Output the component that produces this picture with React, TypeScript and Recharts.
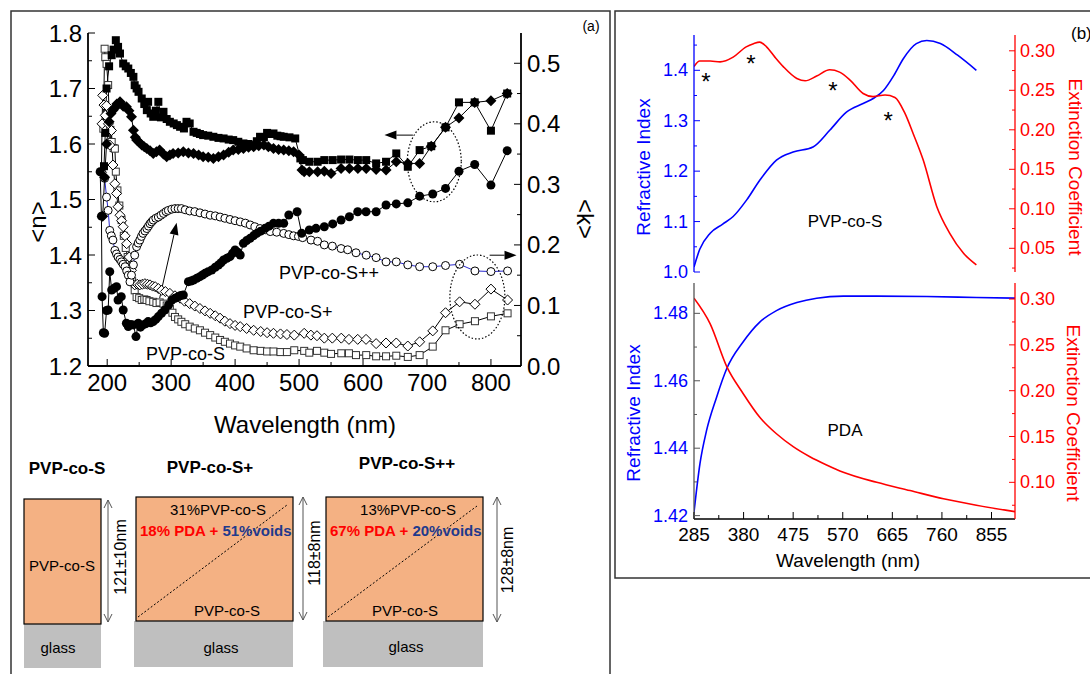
import React from 'react';
import { ComposedChart, Line, XAxis, YAxis, ReferenceLine, ReferenceDot } from 'recharts';

const FONT = '"Liberation Sans", Arial, Helvetica, sans-serif';

// ---- panel (a): effective index <n> (left axis), filled symbols
const nSquares: [number, number][] = [
  [195, 1.56], [197, 1.62], [199, 1.7], [203, 1.74], [207, 1.76], [210, 1.77], [213.5, 1.787], [217, 1.775], [220, 1.763],
  [225, 1.745], [229, 1.74], [233, 1.736], [237, 1.728], [241, 1.721], [243, 1.706], [246, 1.7], [249, 1.694], [254, 1.682],
  [258, 1.672], [262, 1.661], [264, 1.676], [268, 1.655], [272, 1.649], [276, 1.66], [280, 1.676], [284, 1.648], [288, 1.658],
  [293, 1.645], [298, 1.64], [304, 1.637], [309, 1.634], [314, 1.631], [320, 1.628], [324, 1.64], [329, 1.637], [335, 1.622],
  [340, 1.62], [345, 1.618], [350, 1.616], [358, 1.615], [366, 1.613], [374, 1.611], [382, 1.61], [390, 1.608], [397, 1.607],
  [405, 1.604], [413, 1.601], [421, 1.6], [429, 1.598], [434, 1.605], [439, 1.613], [445, 1.612], [450, 1.62], [455, 1.618],
  [460, 1.619], [466, 1.615], [471, 1.614], [476, 1.613], [485, 1.612], [494, 1.61], [502, 1.574], [506, 1.571], [516, 1.568],
  [529, 1.568], [539.5, 1.571], [552.6, 1.571], [565.7, 1.572], [578.7, 1.572], [592, 1.571], [605, 1.571], [620.5, 1.565],
  [636, 1.568], [652, 1.583], [670, 1.559], [688.5, 1.589], [706.7, 1.596], [729, 1.63], [750, 1.675], [774.6, 1.675],
  [800, 1.624], [825.4, 1.691],
];
const nDiamonds: [number, number][] = [
  [193, 1.47], [196, 1.54], [199, 1.6], [203, 1.64], [206, 1.655], [209, 1.661], [212, 1.665], [215, 1.672], [220, 1.676],
  [225, 1.668], [230, 1.667], [234, 1.66], [238, 1.649], [241, 1.625], [244, 1.612], [246, 1.607], [250, 1.603], [254, 1.598],
  [258, 1.595], [262, 1.592], [267, 1.588], [272, 1.583], [277, 1.586], [282, 1.589], [288, 1.582], [293, 1.577], [298, 1.58],
  [303, 1.583], [311, 1.584], [319, 1.586], [327, 1.584], [335, 1.583], [343, 1.58], [350, 1.577], [358, 1.576], [366, 1.574],
  [374, 1.577], [382, 1.58], [390, 1.585], [397, 1.589], [405, 1.59], [413, 1.592], [421, 1.594], [429, 1.595], [437, 1.597],
  [445, 1.598], [452, 1.595], [460, 1.592], [468, 1.59], [476, 1.589], [484, 1.588], [491.5, 1.586], [500, 1.58], [504.6, 1.553],
  [508, 1.55], [516, 1.55], [529, 1.55], [539.5, 1.551], [550, 1.547], [565.7, 1.556], [578.7, 1.556], [592, 1.556],
  [605, 1.556], [620.5, 1.554], [636, 1.553], [652, 1.568], [670, 1.565], [688.5, 1.565], [706.7, 1.596], [729, 1.63],
  [750, 1.647], [774.6, 1.675], [800, 1.678], [825.4, 1.691],
];
const nCircles: [number, number][] = [
  [189, 1.55], [191, 1.47], [192, 1.325], [194, 1.26], [196, 1.259], [199, 1.3], [201.5, 1.301], [204, 1.37], [207, 1.337],
  [211, 1.34], [214.6, 1.343], [217, 1.319], [222, 1.325], [225, 1.301], [230, 1.277], [233, 1.271], [237, 1.275], [241, 1.274],
  [245, 1.253], [248.6, 1.277], [252, 1.27], [256, 1.274], [260, 1.276], [264, 1.28], [268, 1.278], [272, 1.28], [276, 1.284],
  [280, 1.289], [285, 1.295], [290, 1.301], [296, 1.31], [301, 1.319], [306, 1.322], [311, 1.325], [315, 1.327], [319, 1.328],
  [327, 1.352], [331, 1.353], [335, 1.355], [340, 1.358], [345, 1.361], [349, 1.364], [353, 1.367], [358, 1.37], [363.5, 1.373],
  [369, 1.378], [374, 1.382], [378, 1.386], [382, 1.391], [387, 1.394], [392, 1.397], [396, 1.403], [400, 1.409], [404, 1.405],
  [408, 1.4], [413, 1.421], [418, 1.426], [423.5, 1.43], [429, 1.435], [434, 1.439], [440, 1.443], [447, 1.448], [453, 1.452],
  [460, 1.457], [468, 1.457], [476, 1.457], [484, 1.472], [497, 1.478], [504, 1.439], [516, 1.445], [526.5, 1.448],
  [539.5, 1.451], [552.6, 1.456], [565.7, 1.463], [578.7, 1.469], [591.7, 1.478], [604.7, 1.478], [620.5, 1.478], [636, 1.49],
  [652, 1.492], [670, 1.494], [688.5, 1.506], [709, 1.51], [729, 1.52], [750, 1.551], [774.6, 1.563], [800, 1.526],
  [825.4, 1.588],
];

// ---- panel (a): extinction <k> (right axis), open symbols
const kSquares: [number, number][] = [
  [194, 0.392], [196, 0.524], [197, 0.51], [199, 0.499], [201.5, 0.464], [203, 0.42], [205, 0.39], [207, 0.37], [210, 0.36],
  [212, 0.359], [213.5, 0.321], [216, 0.29], [219, 0.265], [222.5, 0.241], [226, 0.215], [229, 0.195], [232, 0.18],
  [235.6, 0.164], [239, 0.14], [243, 0.125], [246, 0.114], [250, 0.112], [254, 0.109], [258, 0.11], [261.6, 0.109], [266, 0.107],
  [272, 0.106], [277, 0.104], [282, 0.105], [288, 0.103], [293, 0.1], [298, 0.095], [302, 0.088], [306, 0.081], [311, 0.077],
  [316, 0.073], [322, 0.069], [329, 0.065], [337, 0.062], [345, 0.059], [353, 0.055], [361, 0.051], [369, 0.047],
  [376.5, 0.043], [384, 0.04], [392, 0.037], [400, 0.034], [408, 0.032], [418, 0.029], [429, 0.026], [440, 0.025], [450, 0.024],
  [460, 0.024], [471, 0.023], [481, 0.023], [492.5, 0.026], [508, 0.025], [516, 0.022], [528, 0.025], [539.5, 0.022],
  [550, 0.02], [566, 0.021], [578, 0.021], [589, 0.018], [605, 0.018], [620.5, 0.016], [636, 0.016], [652, 0.017], [670, 0.015],
  [688.5, 0.018], [709, 0.032], [729, 0.059], [751, 0.069], [775, 0.074], [800, 0.082], [826, 0.087],
];
const kDiamonds: [number, number][] = [
  [191, 0.32], [192, 0.4], [193, 0.447], [195, 0.431], [197, 0.414], [199, 0.43], [202, 0.4], [204, 0.365], [206.7, 0.389],
  [209, 0.332], [212, 0.301], [214.6, 0.285], [217, 0.263], [220, 0.249], [222.5, 0.24], [225, 0.23], [228, 0.215],
  [230.5, 0.202], [234.5, 0.18], [238, 0.158], [243, 0.134], [247, 0.135], [251, 0.134], [255, 0.135], [259, 0.136],
  [263, 0.135], [267, 0.134], [271, 0.132], [275, 0.131], [280, 0.128], [285, 0.125], [291, 0.123], [298, 0.12], [306, 0.116],
  [314, 0.112], [321, 0.107], [329, 0.103], [337, 0.099], [345, 0.095], [353, 0.091], [361, 0.087], [369, 0.083],
  [376.5, 0.079], [384, 0.074], [392, 0.07], [400, 0.067], [408, 0.065], [418, 0.062], [429, 0.059], [440, 0.057], [450, 0.055],
  [460, 0.054], [471, 0.053], [481, 0.052], [492.5, 0.051], [508, 0.054], [518.5, 0.051], [528, 0.05], [539.5, 0.046],
  [552, 0.046], [566, 0.046], [578, 0.044], [591.7, 0.044], [604.7, 0.044], [620.5, 0.037], [636, 0.038], [652, 0.038],
  [670, 0.033], [688.5, 0.04], [709, 0.058], [729, 0.088], [751, 0.106], [775, 0.102], [800, 0.127], [826, 0.109],
];
const kCircles: [number, number][] = [
  [196, 0.31], [199, 0.279], [201.5, 0.257], [204, 0.224], [206.5, 0.215], [209, 0.208], [212, 0.191], [214.5, 0.185],
  [217, 0.18], [220, 0.176], [222.5, 0.172], [225, 0.168], [228, 0.164], [230.5, 0.157], [233, 0.15], [235.6, 0.139],
  [238, 0.15], [241, 0.167], [243, 0.183], [246, 0.197], [248.5, 0.203], [251, 0.208], [253.5, 0.214], [256, 0.219],
  [259, 0.223], [262, 0.227], [264.5, 0.231], [267, 0.235], [269.5, 0.238], [272, 0.241], [276, 0.244], [280, 0.246],
  [284, 0.249], [288, 0.252], [292, 0.255], [295.6, 0.257], [301, 0.259], [306, 0.26], [311, 0.26], [316, 0.26], [322, 0.258],
  [329, 0.256], [337, 0.255], [345, 0.253], [353, 0.251], [361, 0.249], [369, 0.248], [376.5, 0.246], [384, 0.244],
  [392, 0.242], [400, 0.24], [408, 0.238], [416, 0.236], [423.5, 0.233], [431, 0.23], [439, 0.227], [447, 0.225], [455, 0.222],
  [465, 0.221], [476, 0.219], [484, 0.217], [491.5, 0.215], [499, 0.214], [505.6, 0.212], [518.7, 0.208], [529, 0.206],
  [539.5, 0.2], [552, 0.198], [565.7, 0.194], [576, 0.192], [589, 0.187], [605, 0.183], [620.5, 0.179], [636, 0.172],
  [652, 0.172], [670, 0.167], [688.5, 0.164], [709, 0.164], [729, 0.166], [751, 0.168], [775, 0.157], [800, 0.156],
  [826, 0.157],
];

const aXTicks = [200, 250, 300, 350, 400, 450, 500, 550, 600, 650, 700, 750, 800];
const aXMajor = [200, 300, 400, 500, 600, 700, 800];
const aNTicks = [1.2, 1.25, 1.3, 1.35, 1.4, 1.45, 1.5, 1.55, 1.6, 1.65, 1.7, 1.75, 1.8];
const aNMajor = [1.2, 1.3, 1.4, 1.5, 1.6, 1.7, 1.8];
const aKTicks = [0, 0.05, 0.1, 0.15, 0.2, 0.25, 0.3, 0.35, 0.4, 0.45, 0.5];
const aKMajor = [0, 0.1, 0.2, 0.3, 0.4, 0.5];

// ---- panel (b) top: PVP-co-S
const pvpN: [number, number][] = [
  [285, 1.01], [296, 1.045], [316, 1.077], [340, 1.095], [360, 1.11], [386, 1.143], [411, 1.182], [443, 1.222], [475, 1.238],
  [513, 1.248], [545, 1.281], [577, 1.317], [609, 1.334], [630, 1.345], [648, 1.36], [668, 1.39], [686, 1.423], [711, 1.453],
  [731, 1.459], [757, 1.453], [790, 1.43], [826, 1.4],
];
const pvpK: [number, number][] = [
  [285, 0.28], [296, 0.287], [316, 0.287], [335, 0.286], [360, 0.292], [385, 0.305], [399, 0.309], [411, 0.311], [424, 0.305],
  [440, 0.292], [456, 0.28], [482, 0.265], [498, 0.262], [520, 0.268], [545, 0.276], [564, 0.273], [584, 0.263], [609, 0.246],
  [628, 0.242], [651, 0.244], [670, 0.241], [689, 0.221], [705, 0.195], [724, 0.162], [750, 0.103], [775, 0.069], [801, 0.044],
  [826, 0.029],
];
const pvpStars: [number, number][] = [[308, 1.386], [394, 1.422], [551, 1.368], [657, 1.309]];

// ---- panel (b) bottom: PDA
const pdaN: [number, number][] = [
  [285, 1.421], [296.5, 1.4355], [309, 1.4452], [328, 1.455], [348, 1.4637], [379, 1.4715], [411, 1.4774], [443, 1.4808],
  [482, 1.4832], [520, 1.4845], [571, 1.4851], [635, 1.4851], [731, 1.485], [826, 1.4847], [900, 1.4845],
];
const pdaK: [number, number][] = [
  [285, 0.301], [316, 0.273], [348, 0.226], [379, 0.197], [411, 0.171], [443, 0.153], [475, 0.139], [507, 0.128], [539, 0.119],
  [571, 0.111], [635, 0.1], [699, 0.091], [763, 0.082], [826, 0.075], [900, 0.068],
];

const bXTicks = [285, 332.5, 380, 427.5, 475, 522.5, 570, 617.5, 665, 712.5, 760, 807.5, 855];
const bXMajor = [285, 380, 475, 570, 665, 760, 855];
const bTopNTicks = [1.0, 1.05, 1.1, 1.15, 1.2, 1.25, 1.3, 1.35, 1.4, 1.45];
const bTopNMajor = [1.0, 1.1, 1.2, 1.3, 1.4];
const bTopKTicks = [0.025, 0.05, 0.075, 0.1, 0.125, 0.15, 0.175, 0.2, 0.225, 0.25, 0.275, 0.3];
const bTopKMajor = [0.05, 0.1, 0.15, 0.2, 0.25, 0.3];
const bBotNTicks = [1.42, 1.43, 1.44, 1.45, 1.46, 1.47, 1.48];
const bBotNMajor = [1.42, 1.44, 1.46, 1.48];
const bBotKTicks = [0.075, 0.1, 0.125, 0.15, 0.175, 0.2, 0.225, 0.25, 0.275, 0.3];
const bBotKMajor = [0.1, 0.15, 0.2, 0.25, 0.3];

const pts = (a: [number, number][]) => a.map(([x, y]) => ({ x, y }));

type Side = 'left' | 'right' | 'top' | 'bottom';
type TickOpts = { gap: number; len: number; minor: number; color?: string; fontSize?: number; digits?: number; labels?: boolean; lineColor?: string };

function makeTick(side: Side, majors: number[], o: TickOpts) {
  return (props: any) => {
    const { x, y, payload } = props;
    const v = payload.value as number;
    const major = majors.some((m) => Math.abs(m - v) < 1e-9);
    const L = major ? o.len : o.minor;
    const g = o.gap;
    let l: number[];
    let anchor: 'start' | 'middle' | 'end' = 'middle';
    let base = 'central';
    if (side === 'left') { l = [x + g, y, x + g + L, y]; anchor = 'end'; }
    else if (side === 'right') { l = [x - g, y, x - g - L, y]; anchor = 'start'; }
    else if (side === 'bottom') { l = [x, y - g, x, y - g - L]; base = 'hanging'; }
    else { l = [x, y + g, x, y + g + L]; base = 'auto'; }
    const label = o.digits != null ? v.toFixed(o.digits) : String(v);
    return (
      <g>
        {L > 0 && <line x1={l[0]} y1={l[1]} x2={l[2]} y2={l[3]} stroke={o.lineColor ?? '#000'} strokeWidth={1} />}
        {major && o.labels !== false && (
          <text x={x} y={y} textAnchor={anchor} dominantBaseline={base} fontSize={o.fontSize} fill={o.color ?? '#000'} fontFamily={FONT}>
            {label}
          </text>
        )}
      </g>
    );
  };
}

const marker = (kind: string) => (p: any) => {
  const { cx, cy } = p;
  if (cx == null || cy == null) return <g />;
  if (kind === 'fsq') return <rect x={cx - 4} y={cy - 4} width={8} height={8} fill="#000" />;
  if (kind === 'fdi') return <polygon points={`${cx},${cy - 5.5} ${cx + 5.5},${cy} ${cx},${cy + 5.5} ${cx - 5.5},${cy}`} fill="#000" />;
  if (kind === 'fci') return <circle cx={cx} cy={cy} r={4.5} fill="#000" />;
  if (kind === 'oci') return <circle cx={cx} cy={cy} r={4} fill="#fff" stroke="#000" strokeWidth={1} />;
  if (kind === 'osq') return <rect x={cx - 3.5} y={cy - 3.5} width={7} height={7} fill="#fff" stroke="#333" strokeWidth={1} />;
  return <polygon points={`${cx},${cy - 5} ${cx + 5},${cy} ${cx},${cy + 5} ${cx - 5},${cy}`} fill="#fff" stroke="#000" strokeWidth={1} />;
};

const arrowShape = (p: any) => {
  const { x1, y1, x2, y2 } = p;
  const a = Math.atan2(y2 - y1, x2 - x1);
  const L = 12;
  const W = 4.5;
  const bx = x2 - L * Math.cos(a);
  const by = y2 - L * Math.sin(a);
  const s = Math.sin(a);
  const c = Math.cos(a);
  return (
    <g>
      <line x1={x1} y1={y1} x2={bx} y2={by} stroke="#000" strokeWidth={1} />
      <polygon points={`${x2},${y2} ${bx + W * s},${by - W * c} ${bx - W * s},${by + W * c}`} fill="#000" />
    </g>
  );
};

const ellipseShape = (rx: number, ry: number) => (p: any) => (
  <ellipse cx={p.cx} cy={p.cy} rx={rx} ry={ry} fill="none" stroke="#000" strokeWidth={1.2} strokeDasharray="1.5 2" />
);

const starShape = (p: any) => (
  <text x={p.cx} y={p.cy + 13} textAnchor="middle" fontSize={24} fontFamily={FONT} fill="#000">*</text>
);

function PanelA() {
  const series: { d: [number, number][]; axis: string; kind: string; stroke: string }[] = [
    { d: kSquares, axis: 'k', kind: 'osq', stroke: '#000' },
    { d: kDiamonds, axis: 'k', kind: 'odi', stroke: '#000' },
    { d: kCircles, axis: 'k', kind: 'oci', stroke: '#2a2ad0' },
    { d: nCircles, axis: 'n', kind: 'fci', stroke: '#000' },
    { d: nDiamonds, axis: 'n', kind: 'fdi', stroke: '#000' },
    { d: nSquares, axis: 'n', kind: 'fsq', stroke: '#000' },
  ];
  return (
    <ComposedChart width={610} height={420} margin={{ top: 33, right: 29, bottom: 24, left: 28 }}>
      <XAxis xAxisId="b" dataKey="x" type="number" domain={[170, 847]} allowDataOverflow ticks={aXTicks} interval={0}
        tickSize={0} tickMargin={7} tickLine={false} height={30} axisLine={{ stroke: '#000', strokeWidth: 1.8 }}
        tick={makeTick('bottom', aXMajor, { gap: 7, len: 7, minor: 4, fontSize: 24 })} />
      <XAxis xAxisId="t" orientation="top" dataKey="x" type="number" domain={[170, 847]} allowDataOverflow ticks={aXTicks}
        interval={0} tickSize={0} tickMargin={0} tickLine={false} height={0} axisLine={{ stroke: '#000', strokeWidth: 1.8 }}
        tick={makeTick('top', aXMajor, { gap: 0, len: 7, minor: 4, labels: false })} />
      <YAxis yAxisId="n" type="number" domain={[1.2, 1.8]} allowDataOverflow ticks={aNTicks} interval={0} width={60}
        tickSize={0} tickMargin={6} tickLine={false} axisLine={{ stroke: '#000', strokeWidth: 1.8 }}
        tick={makeTick('left', aNMajor, { gap: 6, len: 7, minor: 4, fontSize: 24, digits: 1 })} />
      <YAxis yAxisId="k" orientation="right" type="number" domain={[0, 0.55]} allowDataOverflow ticks={aKTicks} interval={0}
        width={60} tickSize={0} tickMargin={6} tickLine={false} axisLine={{ stroke: '#000', strokeWidth: 1.8 }}
        tick={makeTick('right', aKMajor, { gap: 6, len: 7, minor: 4, fontSize: 24, digits: 1 })} />
      {series.map((s, i) => (
        <Line key={i} xAxisId="b" yAxisId={s.axis} data={pts(s.d)} dataKey="y" type="linear" stroke={s.stroke}
          strokeWidth={1} dot={marker(s.kind)} activeDot={false} isAnimationActive={false} />
      ))}
      <ReferenceLine xAxisId="b" yAxisId="n" segment={[{ x: 282, y: 1.322 }, { x: 308.6, y: 1.458 }]} shape={arrowShape} />
      <ReferenceLine xAxisId="b" yAxisId="n" segment={[{ x: 678, y: 1.616 }, { x: 633.5, y: 1.616 }]} shape={arrowShape} />
      <ReferenceLine xAxisId="b" yAxisId="k" segment={[{ x: 798, y: 0.183 }, { x: 840, y: 0.183 }]} shape={arrowShape} />
      <ReferenceDot xAxisId="b" yAxisId="n" x={711.4} y={1.568} shape={ellipseShape(27, 40)} />
      <ReferenceDot xAxisId="b" yAxisId="k" x={778.8} y={0.114} shape={ellipseShape(27.5, 42)} />
    </ComposedChart>
  );
}

function PanelBTop() {
  return (
    <ComposedChart width={476} height={290} margin={{ top: 35, right: 15, bottom: 18, left: 20 }}>
      <XAxis xAxisId="b" dataKey="x" type="number" domain={[285, 900]} allowDataOverflow ticks={bXTicks} interval={0}
        tickSize={0} tickMargin={0} tickLine={false} height={0} axisLine={{ stroke: '#000', strokeWidth: 1.3 }}
        tick={makeTick('bottom', bXMajor, { gap: 0, len: 7, minor: 4, labels: false })} />
      <XAxis xAxisId="t" orientation="top" dataKey="x" type="number" domain={[285, 900]} allowDataOverflow ticks={bXTicks}
        interval={0} tickSize={0} tickLine={false} height={0} axisLine={{ stroke: '#000', strokeWidth: 1.3 }} tick={false} />
      <YAxis yAxisId="n" type="number" domain={[1.0, 1.47]} allowDataOverflow ticks={bTopNTicks} interval={0} width={60}
        tickSize={0} tickMargin={6} tickLine={false} axisLine={{ stroke: '#0000ff', strokeWidth: 1.3 }}
        tick={makeTick('left', bTopNMajor, { gap: 6, len: 6, minor: 3, fontSize: 18, digits: 1, color: '#0000ff', lineColor: '#0000ff' })} />
      <YAxis yAxisId="k" orientation="right" type="number" domain={[0.02, 0.32]} allowDataOverflow ticks={bTopKTicks} interval={0}
        width={60} tickSize={0} tickMargin={5} tickLine={false} axisLine={{ stroke: '#ff0000', strokeWidth: 1.3 }}
        tick={makeTick('right', bTopKMajor, { gap: 5, len: 6, minor: 3, fontSize: 18, digits: 2, color: '#ff0000', lineColor: '#ff0000' })} />
      <Line xAxisId="b" yAxisId="n" data={pts(pvpN)} dataKey="y" type="monotone" stroke="#0000ff" strokeWidth={1.6} dot={false} activeDot={false} isAnimationActive={false} />
      <Line xAxisId="b" yAxisId="k" data={pts(pvpK)} dataKey="y" type="monotone" stroke="#ff0000" strokeWidth={1.6} dot={false} activeDot={false} isAnimationActive={false} />
      {pvpStars.map(([x, y], i) => (
        <ReferenceDot key={i} xAxisId="b" yAxisId="n" x={x} y={y} shape={starShape} />
      ))}
    </ComposedChart>
  );
}

function PanelBBottom() {
  return (
    <ComposedChart width={476} height={310} margin={{ top: 13, right: 15, bottom: 31, left: 20 }}>
      <XAxis xAxisId="b" dataKey="x" type="number" domain={[285, 900]} allowDataOverflow ticks={bXTicks} interval={0}
        tickSize={0} tickMargin={8} tickLine={false} height={30} axisLine={{ stroke: '#000', strokeWidth: 1.3 }}
        tick={makeTick('bottom', bXMajor, { gap: 8, len: 7, minor: 4, fontSize: 19 })} />
      <XAxis xAxisId="t" orientation="top" dataKey="x" type="number" domain={[285, 900]} allowDataOverflow ticks={bXTicks}
        interval={0} tickSize={0} tickMargin={0} tickLine={false} height={0} axisLine={{ stroke: '#444', strokeWidth: 1.3 }}
        tick={makeTick('top', bXMajor, { gap: 0, len: 6, minor: 3, labels: false, lineColor: '#444' })} />
      <YAxis yAxisId="n" type="number" domain={[1.419, 1.489]} allowDataOverflow ticks={bBotNTicks} interval={0} width={60}
        tickSize={0} tickMargin={6} tickLine={false} axisLine={{ stroke: '#555', strokeWidth: 1.3 }}
        tick={makeTick('left', bBotNMajor, { gap: 6, len: 6, minor: 3, fontSize: 18, digits: 2, color: '#0000ff', lineColor: '#555' })} />
      <YAxis yAxisId="k" orientation="right" type="number" domain={[0.06, 0.3175]} allowDataOverflow ticks={bBotKTicks} interval={0}
        width={60} tickSize={0} tickMargin={5} tickLine={false} axisLine={{ stroke: '#ff0000', strokeWidth: 1.3 }}
        tick={makeTick('right', bBotKMajor, { gap: 5, len: 6, minor: 3, fontSize: 18, digits: 2, color: '#ff0000', lineColor: '#ff0000' })} />
      <Line xAxisId="b" yAxisId="n" data={pts(pdaN)} dataKey="y" type="monotone" stroke="#0000ff" strokeWidth={1.6} dot={false} activeDot={false} isAnimationActive={false} />
      <Line xAxisId="b" yAxisId="k" data={pts(pdaK)} dataKey="y" type="monotone" stroke="#ff0000" strokeWidth={1.6} dot={false} activeDot={false} isAnimationActive={false} />
    </ComposedChart>
  );
}

function DoubleArrow({ x, y1, y2 }: { x: number; y1: number; y2: number }) {
  return (
    <g stroke="#555" strokeWidth={1} fill="none">
      <line x1={x} y1={y1} x2={x} y2={y2} />
      <polyline points={`${x - 4},${y1 + 8} ${x},${y1} ${x + 4},${y1 + 8}`} />
      <polyline points={`${x - 4},${y2 - 8} ${x},${y2} ${x + 4},${y2 - 8}`} />
    </g>
  );
}

function Overlay() {
  const t = { fontFamily: FONT, fill: '#000' } as const;
  const peach = '#F4B183';
  const glass = '#BFBFBF';
  return (
    <svg width={1090} height={674} style={{ position: 'absolute', left: 0, top: 0, pointerEvents: 'none' }}>
      <rect x={11} y={11} width={599} height={700} fill="none" stroke="#333" strokeWidth={1.5} />
      <rect x={615} y={11} width={500} height={567} fill="none" stroke="#333" strokeWidth={1.5} />
      <text {...t} x={591} y={26} fontSize={14} textAnchor="middle" dominantBaseline="central">(a)</text>
      <text {...t} x={1071} y={33} fontSize={17} dominantBaseline="central">(b)</text>

      {/* panel (a) titles */}
      <text {...t} x={37} y={222} fontSize={24} textAnchor="middle" dominantBaseline="central" transform="rotate(-90 37 222)">{'<n>'}</text>
      <text {...t} x={585} y={219} fontSize={24} textAnchor="middle" dominantBaseline="central" transform="rotate(90 585 219)">{'<k>'}</text>
      <text {...t} x={305} y={424} fontSize={24} textAnchor="middle" dominantBaseline="central">Wavelength (nm)</text>
      <text {...t} x={279} y={273} fontSize={18} dominantBaseline="central">PVP-co-S++</text>
      <text {...t} x={243} y={312} fontSize={18} dominantBaseline="central">PVP-co-S+</text>
      <text {...t} x={146} y={354} fontSize={18} dominantBaseline="central">PVP-co-S</text>

      {/* panel (b) titles */}
      <text x={643} y={167} fontSize={19} fontFamily={FONT} fill="#0000ff" textAnchor="middle" dominantBaseline="central" transform="rotate(-90 643 167)">Refractive Index</text>
      <text x={633} y={413} fontSize={19} fontFamily={FONT} fill="#0000ff" textAnchor="middle" dominantBaseline="central" transform="rotate(-90 633 413)">Refractive Index</text>
      <text x={1075} y={167} fontSize={19} fontFamily={FONT} fill="#ff0000" textAnchor="middle" dominantBaseline="central" transform="rotate(90 1075 167)">Extinction Coefficient</text>
      <text x={1073} y={413} fontSize={19} fontFamily={FONT} fill="#ff0000" textAnchor="middle" dominantBaseline="central" transform="rotate(90 1073 413)">Extinction Coefficient</text>
      <text {...t} x={845} y={221} fontSize={17} textAnchor="middle" dominantBaseline="central">PVP-co-S</text>
      <text {...t} x={845} y={430} fontSize={17} textAnchor="middle" dominantBaseline="central">PDA</text>
      <text {...t} x={848} y={560} fontSize={19} textAnchor="middle" dominantBaseline="central">Wavelength (nm)</text>

      {/* layer schematics */}
      <text {...t} x={67} y={468} fontSize={17} fontWeight="bold" textAnchor="middle" dominantBaseline="central">PVP-co-S</text>
      <text {...t} x={210} y={467} fontSize={17} fontWeight="bold" textAnchor="middle" dominantBaseline="central">PVP-co-S+</text>
      <text {...t} x={407} y={463} fontSize={17} fontWeight="bold" textAnchor="middle" dominantBaseline="central">PVP-co-S++</text>

      <rect x={24} y={624} width={77} height={44} fill={glass} />
      <rect x={24} y={499} width={77} height={125} fill={peach} stroke="#000" strokeWidth={1.2} />
      <text {...t} x={62} y={565} fontSize={15} textAnchor="middle" dominantBaseline="central">PVP-co-S</text>
      <text {...t} x={58} y={647} fontSize={15} textAnchor="middle" dominantBaseline="central">glass</text>
      <DoubleArrow x={108} y1={500} y2={622} />
      <text {...t} x={120} y={557} fontSize={16} textAnchor="middle" dominantBaseline="central" transform="rotate(-90 120 557)">121±10nm</text>

      <rect x={134} y={621} width={159} height={46} fill={glass} />
      <rect x={136} y={497} width={157} height={124} fill={peach} stroke="#000" strokeWidth={1.2} />
      <line x1={138} y1={617} x2={287} y2={505} stroke="#000" strokeWidth={1} strokeDasharray="2 2" />
      <text {...t} x={218} y={509} fontSize={15} textAnchor="middle" dominantBaseline="central">31%PVP-co-S</text>
      <text x={140} y={530} fontSize={15} fontWeight="bold" fontFamily={FONT} dominantBaseline="central">
        <tspan fill="#ff0000">18% PDA + </tspan><tspan fill="#1f3a8c">51%voids</tspan>
      </text>
      <text {...t} x={227} y={610} fontSize={15} textAnchor="middle" dominantBaseline="central">PVP-co-S</text>
      <text {...t} x={221} y={647} fontSize={15} textAnchor="middle" dominantBaseline="central">glass</text>
      <DoubleArrow x={303} y1={497} y2={620} />
      <text {...t} x={314} y={553} fontSize={16} textAnchor="middle" dominantBaseline="central" transform="rotate(-90 314 553)">118±8nm</text>

      <rect x={323} y={621} width={160} height={46} fill={glass} />
      <rect x={326} y={497} width={157} height={124} fill={peach} stroke="#000" strokeWidth={1.2} />
      <line x1={328} y1={617} x2={477} y2={506} stroke="#000" strokeWidth={1} strokeDasharray="2 2" />
      <text {...t} x={408} y={509} fontSize={15} textAnchor="middle" dominantBaseline="central">13%PVP-co-S</text>
      <text x={330} y={530} fontSize={15} fontWeight="bold" fontFamily={FONT} dominantBaseline="central">
        <tspan fill="#ff0000">67% PDA + </tspan><tspan fill="#1f3a8c">20%voids</tspan>
      </text>
      <text {...t} x={405} y={610} fontSize={15} textAnchor="middle" dominantBaseline="central">PVP-co-S</text>
      <text {...t} x={406} y={646} fontSize={15} textAnchor="middle" dominantBaseline="central">glass</text>
      <DoubleArrow x={497} y1={497} y2={622} />
      <text {...t} x={507} y={560} fontSize={16} textAnchor="middle" dominantBaseline="central" transform="rotate(-90 507 560)">128±8nm</text>
    </svg>
  );
}

export default function App() {
  return (
    <div style={{ position: 'absolute', left: 0, top: 0, width: 1090, height: 674, background: '#fff', overflow: 'hidden', fontFamily: FONT }}>
      <div style={{ position: 'absolute', left: 0, top: 0 }}>
        <PanelA />
      </div>
      <div style={{ position: 'absolute', left: 614, top: 0 }}>
        <PanelBTop />
      </div>
      <div style={{ position: 'absolute', left: 614, top: 270 }}>
        <PanelBBottom />
      </div>
      <Overlay />
    </div>
  );
}
